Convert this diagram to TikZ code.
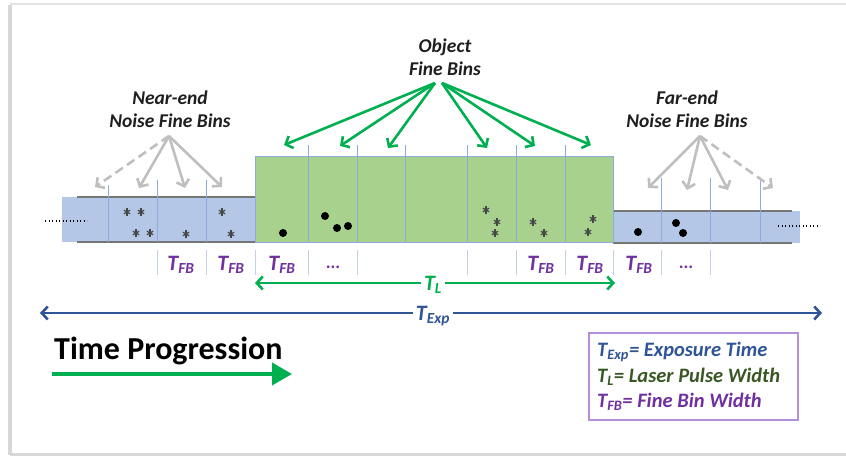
\documentclass[tikz,border=0pt]{standalone}
\usepackage{fontspec}
\setmainfont{Carlito}
\usetikzlibrary{arrows.meta}
\definecolor{bfill}{RGB}{180,199,231}
\definecolor{gfill}{RGB}{169,209,142}
\definecolor{divb}{RGB}{143,170,220}
\definecolor{rowl}{RGB}{195,208,236}
\definecolor{garr}{RGB}{0,176,80}
\definecolor{grayarr}{RGB}{191,191,191}
\definecolor{expb}{RGB}{47,85,151}
\definecolor{tfbp}{RGB}{112,48,160}
\definecolor{legg}{RGB}{56,87,35}
\definecolor{legbox}{RGB}{180,143,216}
\definecolor{edgeg}{RGB}{118,118,118}
\definecolor{txt}{RGB}{30,30,30}
\definecolor{astc}{RGB}{70,70,70}
\definecolor{shad}{RGB}{215,215,215}
\begin{document}
\begin{tikzpicture}[x=1pt,y=-1pt,
  lab/.style={font=\fontsize{19.5}{23}\selectfont\bfseries\itshape, text=txt, align=center, inner sep=0pt},
  tfb/.style={font=\fontsize{22}{24}\selectfont\bfseries\itshape, text=tfbp, inner sep=0pt},
  dotsl/.style={font=\fontsize{18}{20}\selectfont\bfseries, text=tfbp, inner sep=0pt, anchor=base},
  leg/.style={font=\fontsize{20.5}{22}\selectfont\bfseries\itshape, inner sep=0pt, anchor=base west},
  garrow/.style={draw=garr, line width=2.6pt, -{Straight Barb[length=6pt,width=13pt]}},
  grarrow/.style={draw=grayarr, line width=2.6pt, -{Straight Barb[length=6pt,width=13pt]}},
  divline/.style={draw=divb, line width=0.9pt},
  rowline/.style={draw=rowl, line width=0.9pt},
  edgeline/.style={draw=edgeg, line width=1.4pt},
  dotline/.style={draw=black, line width=1.4pt, dash pattern=on 1.4pt off 2.1pt},
  astr/.pic={\foreach \a in {90,30,150}{\draw[astc,line width=1.2pt] (\a:3.6)--(\a+180:3.6);}},
  pdot/.style={fill=black}
]
\useasboundingbox (0,0) rectangle (846,457);
% frame shadow
\fill[shad] (8,5) rectangle (12,455);
\draw[shad!70, line width=1.5pt] (10,4) -- (846,4);
\draw[shad, line width=3pt] (10,454) -- (846,454);

% near-end box
\fill[bfill] (62,197) rectangle (256,242);
\draw[edgeline] (77,197) -- (256,197);
\draw[edgeline] (77,242) -- (256,242);
\draw[divline] (108,185) -- (108,242);
\draw[divline] (157,180) -- (157,242);
\draw[divline] (206,180) -- (206,242);
% far-end box
\fill[bfill] (613,211) rectangle (800,243);
\draw[edgeline] (613,211) -- (792,211);
\draw[edgeline] (613,243) -- (792,243);
\draw[divline] (661,178) -- (661,243);
\draw[divline] (710,178) -- (710,243);
\draw[divline] (760,178) -- (760,243);
% object box
\filldraw[fill=gfill, draw=divb, line width=0.9pt] (255,156) rectangle (613,242);
\foreach \x in {308,357,405,467,516,565}{\draw[divline] (\x,145) -- (\x,242);}

% label row lines
\foreach \x in {157,206,255,308,357,467,516,565,613,661,710}{\draw[rowline] (\x,250) -- (\x,275);}

% dotted continuation
\draw[dotline] (45,221) -- (87,221);
\draw[dotline] (778,226) -- (820,226);

% noise asterisks
\foreach \p in {(127,212),(141,212),(136,233),(150,233),(186,234),(222,212),(231,234),
  (486,210),(497,222),(495,233),(533,222),(544,233),(593,219),(588,232)}{\pic at \p {astr};}
% photon dots
\foreach \p in {(283,233),(325,216),(337,228),(348,226),(638,232),(676,223),(683,233)}{\fill[pdot] \p circle[radius=4pt];}

% labels
\node[lab] (near) at (170,109) {Near-end\\Noise Fine Bins};
\node[lab] (obj) at (445,57) {Object\\Fine Bins};
\node[lab] (far) at (687,109) {Far-end\\Noise Fine Bins};

\coordinate (nearo) at (169,136);
\coordinate (objl) at (435,83);
\coordinate (objr) at (442,83);
\coordinate (faro) at (700,136);

% near-end arrows
\coordinate (n1) at (95,187);
\coordinate (n2) at (139,188);
\coordinate (n3) at (185,188);
\coordinate (n4) at (222,187);
\draw[grarrow, dash pattern=on 9pt off 5pt] (nearo) -- (n1);
\draw[grarrow] (nearo) -- (n2);
\draw[grarrow] (nearo) -- (n3);
\draw[grarrow] (nearo) -- (n4);
% object arrows
\coordinate (o1) at (284,145);
\coordinate (o2) at (340,146);
\coordinate (o3) at (388,148);
\coordinate (o4) at (487,148);
\coordinate (o5) at (535,146);
\coordinate (o6) at (591,145);
\draw[garrow] (objl) -- (o1);
\draw[garrow] (objl) -- (o2);
\draw[garrow] (objl) -- (o3);
\draw[garrow] (objr) -- (o4);
\draw[garrow] (objr) -- (o5);
\draw[garrow] (objr) -- (o6);
% far-end arrows
\coordinate (f1) at (648,188);
\coordinate (f2) at (687,190);
\coordinate (f3) at (728,190);
\coordinate (f4) at (773,188);
\draw[grarrow] (faro) -- (f1);
\draw[grarrow] (faro) -- (f2);
\draw[grarrow] (faro) -- (f3);
\draw[grarrow, dash pattern=on 9pt off 5pt] (faro) -- (f4);

% fine bin width labels
\node[tfb] (tfb1) at (181,265) {T\textsubscript{FB}};
\node[tfb] (tfb2) at (231,265) {T\textsubscript{FB}};
\node[tfb] (tfb3) at (282,265) {T\textsubscript{FB}};
\node[dotsl] (d1) at (333,268) {...};
\node[tfb] (tfb4) at (541,265) {T\textsubscript{FB}};
\node[tfb] (tfb5) at (590,265) {T\textsubscript{FB}};
\node[tfb] (tfb6) at (639,265) {T\textsubscript{FB}};
\node[dotsl] (d2) at (686,268) {...};

% laser pulse width
\node[tfb, text=garr, inner xsep=3pt] (tl) at (433,285) {T\textsubscript{L}};
\coordinate (tll) at (255,283);
\coordinate (tlr) at (615,283);
\draw[garrow] (tl.west |- tll) -- (tll);
\draw[garrow] (tl.east |- tlr) -- (tlr);

% exposure time
\node[tfb, text=expb, inner xsep=3pt] (texp) at (433,316) {T\textsubscript{Exp}};
\coordinate (tel) at (40,313);
\coordinate (ter) at (822,313);
\draw[draw=expb, line width=2.6pt, -{Straight Barb[length=6pt,width=13pt]}] (texp.west |- tel) -- (tel);
\draw[draw=expb, line width=2.6pt, -{Straight Barb[length=6pt,width=13pt]}] (texp.east |- ter) -- (ter);

% time progression
\node[font=\fontsize{32}{34}\selectfont\bfseries, text=black, anchor=base west, inner sep=0pt] (tp) at (54,359) {Time Progression};
\coordinate (tpa) at (52,374);
\coordinate (tpb) at (292,374);
\draw[draw=garr, line width=4pt, -{Triangle[length=20pt,width=22pt]}] (tpa) -- (tpb);

% legend
\node[draw=legbox, line width=1.2pt, minimum width=209pt, minimum height=87pt, inner sep=0pt] (legend) at (693.5,376.5) {};
\node[leg, text=expb] (l1) at (597,356) {T\textsubscript{Exp}= Exposure Time};
\node[leg, text=legg] (l2) at (597,382) {T\textsubscript{L}= Laser Pulse Width};
\node[leg, text=tfbp] (l3) at (597,407) {T\textsubscript{FB}= Fine Bin Width};
\end{tikzpicture}
\end{document}
